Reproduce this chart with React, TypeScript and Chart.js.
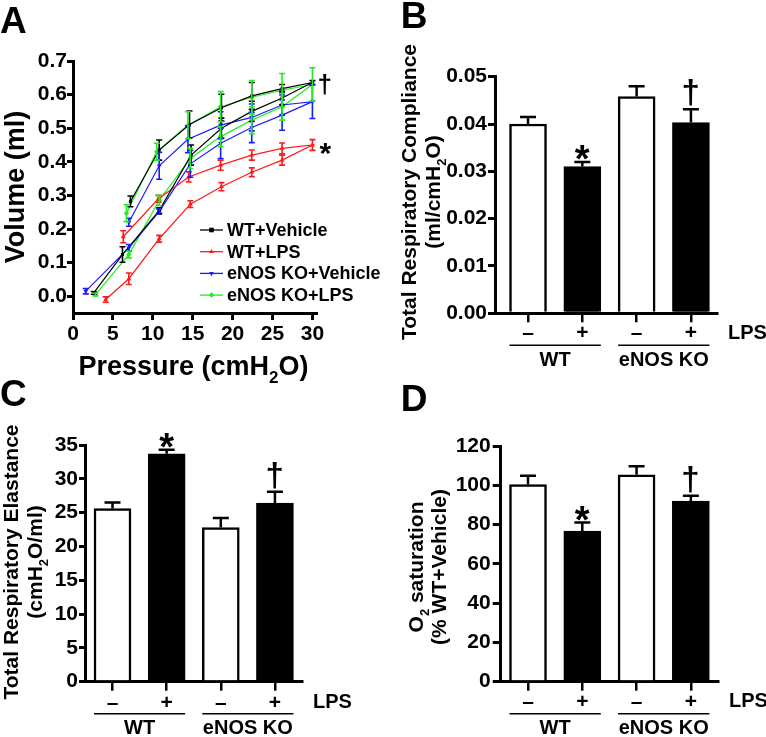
import React, { useEffect, useRef } from 'react';
import { Chart, registerables } from 'chart.js';

Chart.register(...registerables);

const FF = '"Liberation Sans", Arial, Helvetica, sans-serif';
const BLACK = '#000000';

// ---------------- Panel A : pressure-volume loops (inflation then deflation) ----------------
const pressureTicks = [0, 5, 10, 15, 20, 25, 30];
const volumeTicks = [0, 0.1, 0.2, 0.3, 0.4, 0.5, 0.6, 0.7];
const seriesNames = ['WT+Vehicle', 'WT+LPS', 'eNOS KO+Vehicle', 'eNOS KO+LPS'];
const seriesColors = ['#000000', '#ff1a1a', '#1a1aff', '#22ee22'];

const wtVehPressure = [2.6, 6.2, 10.8, 14.8, 18.6, 22.4, 26.2, 30.0, 26.2, 22.4, 18.6, 14.6, 10.8, 7.2];
const wtVehVolume = [0.010, 0.124, 0.255, 0.420, 0.500, 0.550, 0.590, 0.636, 0.618, 0.596, 0.561, 0.511, 0.435, 0.282];
const wtVehSem = [0.004, 0.023, 0.008, 0.030, 0.030, 0.030, 0.020, 0.006, 0.012, 0.040, 0.040, 0.040, 0.030, 0.016];

const wtLpsPressure = [4.1, 7.0, 10.8, 14.7, 18.6, 22.4, 26.2, 30.0, 26.2, 22.4, 18.5, 14.5, 10.7, 6.3];
const wtLpsVolume = [-0.010, 0.052, 0.171, 0.274, 0.326, 0.369, 0.405, 0.450, 0.440, 0.420, 0.390, 0.355, 0.290, 0.177];
const wtLpsSem = [0.008, 0.017, 0.010, 0.010, 0.012, 0.013, 0.015, 0.016, 0.016, 0.015, 0.015, 0.015, 0.010, 0.018];

const koVehPressure = [1.6, 7.0, 10.8, 14.7, 18.5, 22.4, 26.2, 30.0, 26.2, 22.4, 18.5, 14.4, 10.8, 7.0];
const koVehVolume = [0.015, 0.144, 0.252, 0.394, 0.455, 0.502, 0.539, 0.579, 0.569, 0.532, 0.509, 0.467, 0.388, 0.220];
const koVehSem = [0.008, 0.010, 0.008, 0.040, 0.045, 0.045, 0.045, 0.050, 0.030, 0.040, 0.040, 0.040, 0.040, 0.012];

const koLpsPressure = [2.8, 7.0, 10.8, 14.7, 18.5, 22.4, 26.2, 30.0, 26.2, 22.4, 18.5, 14.4, 10.5, 6.7];
const koLpsVolume = [0.005, 0.124, 0.285, 0.410, 0.475, 0.524, 0.564, 0.630, 0.613, 0.592, 0.564, 0.509, 0.430, 0.247];
const koLpsSem = [0.004, 0.010, 0.015, 0.030, 0.030, 0.040, 0.040, 0.050, 0.050, 0.050, 0.045, 0.040, 0.025, 0.025];

// ---------------- Panels B, C, D : bars ----------------
const barSlots = [0, 1, 2, 3];
const lpsLabels = ['–', '+', '–', '+'];
const groupLabels = ['WT', 'eNOS KO'];

const complianceMean = [0.0400, 0.0310, 0.0458, 0.0403];
const complianceSem = [0.0015, 0.0010, 0.0022, 0.0028];
const complianceSig = ['', '*', '', '†'];
const complianceTicks = [0, 0.01, 0.02, 0.03, 0.04, 0.05];

const elastanceMean = [25.6, 33.7, 22.8, 26.4];
const elastanceSem = [0.9, 0.6, 1.4, 1.7];
const elastanceSig = ['', '*', '', '†'];
const elastanceTicks = [0, 5, 10, 15, 20, 25, 30, 35];

const o2Mean = [100.4, 76.7, 105.3, 91.9];
const o2Sem = [4.4, 4.3, 4.4, 2.8];
const o2Sig = ['', '*', '', '†'];
const o2Ticks = [0, 20, 40, 60, 80, 100, 120];

type Seg = { t: string; sub?: boolean };

function drawRich(ctx: CanvasRenderingContext2D, segs: Seg[], x: number, y: number, size: number, rotated: boolean, align: string = 'center') {
  const main = `bold ${size}px ${FF}`;
  const sub = `bold ${Math.round(size * 0.62)}px ${FF}`;
  let total = 0;
  const widths = segs.map((s) => {
    ctx.font = s.sub ? sub : main;
    const w = ctx.measureText(s.t).width;
    total += w;
    return w;
  });
  ctx.save();
  ctx.translate(x, y);
  if (rotated) ctx.rotate(-Math.PI / 2);
  ctx.fillStyle = BLACK;
  ctx.textBaseline = 'alphabetic';
  ctx.textAlign = 'left';
  let cx = align === 'center' ? -total / 2 : 0;
  segs.forEach((s, i) => {
    ctx.font = s.sub ? sub : main;
    ctx.fillText(s.t, cx, s.sub ? size * 0.28 : 0);
    cx += widths[i];
  });
  ctx.restore();
}

// mode 'bottom': x = ink centre, y = ink bottom ; mode 'leftCenter': x = ink left, y = ink centre
function drawGlyph(ctx: CanvasRenderingContext2D, ch: string, x: number, y: number, size: number, mode: string) {
  ctx.save();
  ctx.font = `bold ${size}px ${FF}`;
  ctx.textBaseline = 'alphabetic';
  ctx.textAlign = 'left';
  ctx.fillStyle = BLACK;
  const m = ctx.measureText(ch);
  const asc = m.actualBoundingBoxAscent;
  const desc = m.actualBoundingBoxDescent;
  const l = m.actualBoundingBoxLeft;
  const r = m.actualBoundingBoxRight;
  let bx: number;
  let by: number;
  if (mode === 'bottom') {
    bx = x - (r - l) / 2;
    by = y - desc;
  } else {
    bx = x + l;
    by = y + (asc - desc) / 2;
  }
  ctx.fillText(ch, bx, by);
  ctx.restore();
}

function drawMarker(ctx: CanvasRenderingContext2D, style: string, x: number, y: number, r: number, color: string) {
  ctx.save();
  ctx.fillStyle = color;
  ctx.beginPath();
  if (style === 'rect') {
    ctx.rect(x - r, y - r, 2 * r, 2 * r);
  } else if (style === 'triangle') {
    ctx.moveTo(x, y - r * 1.2);
    ctx.lineTo(x + r, y + r * 0.6);
    ctx.lineTo(x - r, y + r * 0.6);
  } else if (style === 'triangleDown') {
    ctx.moveTo(x, y + r * 1.2);
    ctx.lineTo(x + r, y - r * 0.6);
    ctx.lineTo(x - r, y - r * 0.6);
  } else {
    ctx.moveTo(x, y - r * 1.2);
    ctx.lineTo(x + r * 1.2, y);
    ctx.lineTo(x, y + r * 1.2);
    ctx.lineTo(x - r * 1.2, y);
  }
  ctx.closePath();
  ctx.fill();
  ctx.restore();
}

const tickFont = (size: number) => ({ family: FF, size, weight: 'bold' as const, lineHeight: 1 });

function makeLineChart(canvas: HTMLCanvasElement) {
  const series = [
    { p: wtVehPressure, v: wtVehVolume, e: wtVehSem, marker: 'rect' },
    { p: wtLpsPressure, v: wtLpsVolume, e: wtLpsSem, marker: 'triangle' },
    { p: koVehPressure, v: koVehVolume, e: koVehSem, marker: 'triangleDown' },
    { p: koLpsPressure, v: koLpsVolume, e: koLpsSem, marker: 'rectRot' },
  ];
  const chartStyle: Record<string, string> = { rect: 'rect', triangle: 'triangle', triangleDown: 'triangle', rectRot: 'rectRot' };

  const decor = {
    id: 'pvDecor',
    afterDatasetsDraw(chart: any) {
      const ctx = chart.ctx;
      const yS = chart.scales.y;
      ctx.save();
      series.forEach((s, d) => {
        const pts = chart.getDatasetMeta(d).data;
        ctx.strokeStyle = seriesColors[d];
        ctx.lineWidth = 1.6;
        pts.forEach((pt: any, i: number) => {
          const y1 = yS.getPixelForValue(s.v[i] - s.e[i]);
          const y2 = yS.getPixelForValue(s.v[i] + s.e[i]);
          ctx.beginPath();
          ctx.moveTo(pt.x, y1);
          ctx.lineTo(pt.x, y2);
          ctx.moveTo(pt.x - 3, y1);
          ctx.lineTo(pt.x + 3, y1);
          ctx.moveTo(pt.x - 3, y2);
          ctx.lineTo(pt.x + 3, y2);
          ctx.stroke();
        });
      });
      ctx.restore();
    },
    afterDraw(chart: any) {
      const ctx = chart.ctx;
      const area = chart.chartArea;
      ctx.save();
      // legend
      series.forEach((s, d) => {
        const ry = 230 + d * 21.7;
        ctx.strokeStyle = seriesColors[d];
        ctx.lineWidth = 1.3;
        ctx.beginPath();
        ctx.moveTo(200, ry);
        ctx.lineTo(223, ry);
        ctx.stroke();
        drawMarker(ctx, s.marker, 211.5, ry, 2.3, seriesColors[d]);
        ctx.fillStyle = BLACK;
        ctx.font = `bold 18px ${FF}`;
        ctx.textBaseline = 'middle';
        ctx.textAlign = 'left';
        ctx.fillText(seriesNames[d], 227, ry + 1);
      });
      // significance marks at end of loops
      const kLps = chart.getDatasetMeta(3).data[7];
      const wLps = chart.getDatasetMeta(1).data[7];
      drawGlyph(ctx, '†', kLps.x + 6, kLps.y, 26, 'leftCenter');
      drawGlyph(ctx, '*', wLps.x + 7, wLps.y + 4, 30, 'leftCenter');
      // axis titles
      drawRich(ctx, [{ t: 'Volume (ml)' }], 24, (area.top + area.bottom) / 2, 27, true);
      drawRich(ctx, [{ t: 'Pressure (cmH' }, { t: '2', sub: true }, { t: 'O)' }], 193.5, 375, 27, false);
      drawRich(ctx, [{ t: 'A' }], 0, 33, 37, false, 'left');
      ctx.restore();
    },
  };

  return new Chart(canvas, {
    type: 'line',
    data: {
      datasets: series.map((s, d) => ({
        label: seriesNames[d],
        data: s.p.map((x, i) => ({ x, y: s.v[i] })),
        borderColor: seriesColors[d],
        backgroundColor: seriesColors[d],
        borderWidth: 1.2,
        pointStyle: chartStyle[s.marker],
        pointRotation: s.marker === 'triangleDown' ? 180 : 0,
        pointRadius: s.marker === 'rect' ? 2.2 : 2.8,
        pointBorderWidth: 0,
        tension: 0,
        fill: false,
      })),
    },
    options: {
      animation: false,
      responsive: false,
      maintainAspectRatio: false,
      devicePixelRatio: 1,
      layout: { padding: { left: 0, top: 61, right: 67, bottom: 0 } },
      plugins: { legend: { display: false }, tooltip: { enabled: false } },
      scales: {
        x: {
          type: 'linear',
          min: 0,
          max: 30.45,
          offset: false,
          afterBuildTicks: (s: any) => { s.ticks = pressureTicks.map((value) => ({ value })); },
          afterFit: (s: any) => { s.height = 82; },
          ticks: { font: tickFont(21), color: BLACK, padding: 4, maxRotation: 0, callback: (v: any) => String(v) },
          grid: { drawOnChartArea: false, drawTicks: true, tickLength: 7, color: BLACK, lineWidth: 3, tickWidth: 3, offset: false },
          border: { display: true, color: BLACK, width: 3 },
        },
        y: {
          type: 'linear',
          min: -0.05,
          max: 0.7,
          afterBuildTicks: (s: any) => { s.ticks = volumeTicks.map((value) => ({ value })); },
          afterFit: (s: any) => { s.width = 73; },
          ticks: { font: tickFont(21), color: BLACK, padding: 0, callback: (v: any) => Number(v).toFixed(1) },
          grid: { drawOnChartArea: false, drawTicks: true, tickLength: 6, color: BLACK, lineWidth: 3, tickWidth: 3 },
          border: { display: true, color: BLACK, width: 3 },
        },
      },
    } as any,
    plugins: [decor],
  });
}

function makeBarChart(canvas: HTMLCanvasElement, s: any) {
  const decor = {
    id: 'barDecor',
    afterDraw(chart: any) {
      const ctx = chart.ctx;
      const area = chart.chartArea;
      const yS = chart.scales.y;
      const bars = chart.getDatasetMeta(0).data;
      ctx.save();
      ctx.strokeStyle = BLACK;
      ctx.fillStyle = BLACK;
      ctx.lineWidth = 2.5;
      bars.forEach((bar: any, i: number) => {
        const top = yS.getPixelForValue(s.means[i] + s.sems[i]);
        ctx.beginPath();
        ctx.moveTo(bar.x, bar.y);
        ctx.lineTo(bar.x, top);
        ctx.moveTo(bar.x - 8, top);
        ctx.lineTo(bar.x + 8, top);
        ctx.stroke();
        const mark = s.sig[i];
        if (mark === '*') drawGlyph(ctx, mark, bar.x, top - 2, 38, 'bottom');
        else if (mark) drawGlyph(ctx, mark, bar.x, top - 3, 33, 'bottom');
      });
      ctx.font = `bold 20px ${FF}`;
      ctx.textBaseline = 'middle';
      ctx.textAlign = 'left';
      ctx.fillText('LPS', area.right + 11, area.bottom + s.lpsDy);
      ctx.lineWidth = 1.5;
      groupLabels.forEach((g, gi) => {
        const a = bars[gi * 2];
        const b = bars[gi * 2 + 1];
        const x0 = a.x - a.width / 2;
        const x1 = b.x + b.width / 2;
        const ly = area.bottom + 32;
        ctx.beginPath();
        ctx.moveTo(x0, ly);
        ctx.lineTo(x1, ly);
        ctx.stroke();
        ctx.textAlign = 'center';
        ctx.fillText(g, (a.x + b.x) / 2, area.bottom + 47);
      });
      s.titleLines.forEach((l: any) => drawRich(ctx, l.segs, l.x, s.titleY, 21, true));
      drawRich(ctx, [{ t: s.letter }], s.letterX, s.letterY, 37, false, 'left');
      ctx.restore();
    },
  };

  return new Chart(canvas, {
    type: 'bar',
    data: {
      datasets: [
        {
          data: barSlots.map((x, i) => ({ x, y: s.means[i] })),
          backgroundColor: lpsLabels.map((l) => (l === '+' ? BLACK : '#ffffff')),
          borderColor: BLACK,
          borderWidth: 2.5,
          barThickness: 37,
        },
      ],
    },
    options: {
      animation: false,
      responsive: false,
      maintainAspectRatio: false,
      devicePixelRatio: 1,
      layout: { padding: { left: 0, top: s.top, right: s.right, bottom: 0 } },
      plugins: { legend: { display: false }, tooltip: { enabled: false } },
      scales: {
        x: {
          type: 'linear',
          min: s.xMin,
          max: s.xMax,
          offset: false,
          afterBuildTicks: (sc: any) => { sc.ticks = barSlots.map((value) => ({ value })); },
          afterFit: (sc: any) => { sc.height = s.xHeight; },
          ticks: { font: tickFont(21), color: BLACK, padding: s.xPad, maxRotation: 0, callback: (v: any) => lpsLabels[v] ?? '' },
          grid: { drawOnChartArea: false, drawTicks: true, tickLength: 9, color: BLACK, lineWidth: 2.5, tickWidth: 2.5, offset: false },
          border: { display: true, color: BLACK, width: 3 },
        },
        y: {
          type: 'linear',
          min: 0,
          max: s.yMax,
          afterBuildTicks: (sc: any) => { sc.ticks = s.ticks.map((value: number) => ({ value })); },
          afterFit: (sc: any) => { sc.width = s.yWidth; },
          ticks: { font: tickFont(21), color: BLACK, padding: s.yPad, callback: (v: any) => Number(v).toFixed(s.decimals) },
          grid: { drawOnChartArea: false, drawTicks: true, tickLength: s.yTick, color: BLACK, lineWidth: 3, tickWidth: 3 },
          border: { display: true, color: BLACK, width: 3 },
        },
      },
    } as any,
    plugins: [decor],
  });
}

const specB = {
  means: complianceMean, sems: complianceSem, sig: complianceSig, ticks: complianceTicks,
  yMax: 0.05, decimals: 2, top: 76.7, right: 49, yWidth: 112, xHeight: 56.7,
  xMin: -0.608, xMax: 3.48, xPad: 0, yPad: 1, yTick: 7, lpsDy: 20,
  letter: 'B', letterX: 17.7, letterY: 28, titleY: 192,
  titleLines: [
    { segs: [{ t: 'Total Respiratory Compliance' }], x: 32.5 },
    { segs: [{ t: '(ml/cmH' }, { t: '2', sub: true }, { t: 'O)' }], x: 57 },
  ],
};

const specC = {
  means: elastanceMean, sems: elastanceSem, sig: elastanceSig, ticks: elastanceTicks,
  yMax: 35, decimals: 0, top: 75, right: 81, yWidth: 85, xHeight: 55.3,
  xMin: -0.508, xMax: 3.5, xPad: 2, yPad: 1, yTick: 6, lpsDy: 21,
  letter: 'C', letterX: 0, letterY: 36, titleY: 192,
  titleLines: [
    { segs: [{ t: 'Total Respiratory Elastance' }], x: 18 },
    { segs: [{ t: '(cmH' }, { t: '2', sub: true }, { t: 'O/ml)' }], x: 42 },
  ],
};

const specD = {
  means: o2Mean, sems: o2Sem, sig: o2Sig, ticks: o2Ticks,
  yMax: 120, decimals: 0, top: 76, right: 48, yWidth: 117.7, xHeight: 55.3,
  xMin: -0.503, xMax: 3.5, xPad: 1, yPad: 2, yTick: 8, lpsDy: 20,
  letter: 'D', letterX: 17.7, letterY: 41, titleY: 197,
  titleLines: [
    { segs: [{ t: 'O' }, { t: '2', sub: true }, { t: ' saturation' }], x: 40 },
    { segs: [{ t: '(% WT+Vehicle)' }], x: 63 },
  ],
};

export default function App() {
  const aRef = useRef<HTMLCanvasElement>(null);
  const bRef = useRef<HTMLCanvasElement>(null);
  const cRef = useRef<HTMLCanvasElement>(null);
  const dRef = useRef<HTMLCanvasElement>(null);

  useEffect(() => {
    const charts = [
      makeLineChart(aRef.current as HTMLCanvasElement),
      makeBarChart(bRef.current as HTMLCanvasElement, specB),
      makeBarChart(cRef.current as HTMLCanvasElement, specC),
      makeBarChart(dRef.current as HTMLCanvasElement, specD),
    ];
    return () => charts.forEach((c) => c.destroy());
  }, []);

  const cv = (left: number, top: number, w: number, h: number): React.CSSProperties => ({
    position: 'absolute', left, top, width: w, height: h, display: 'block',
  });

  return (
    <div style={{ position: 'absolute', left: 0, top: 0, width: 766, height: 737, background: '#ffffff', overflow: 'hidden' }}>
      <canvas ref={aRef} width={383} height={395} style={cv(0, 0, 383, 395)} />
      <canvas ref={bRef} width={383} height={370} style={cv(383, 0, 383, 370)} />
      <canvas ref={cRef} width={383} height={367} style={cv(0, 370, 383, 367)} />
      <canvas ref={dRef} width={383} height={367} style={cv(383, 370, 383, 367)} />
    </div>
  );
}
